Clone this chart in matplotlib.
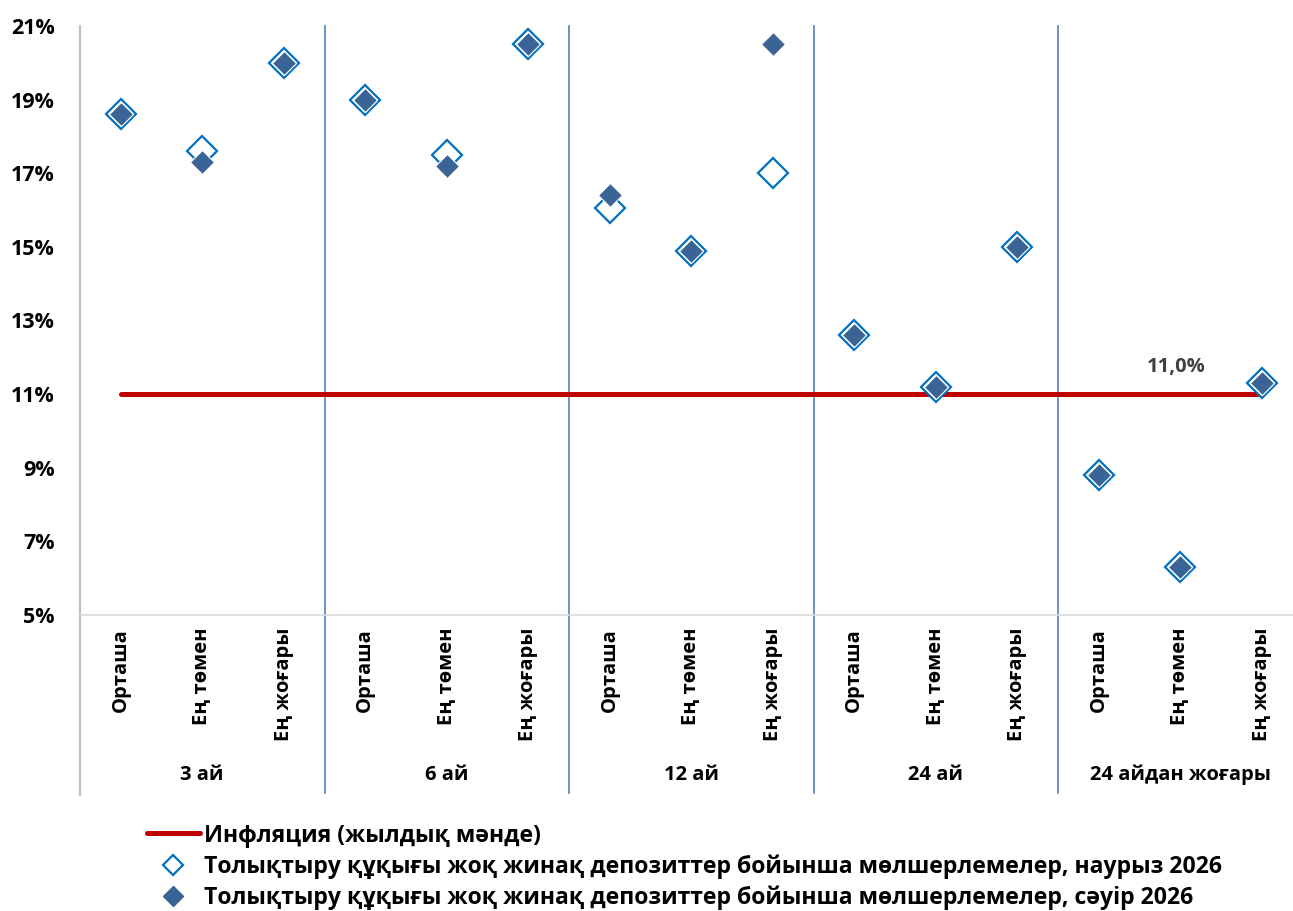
import numpy as np
import matplotlib
matplotlib.use('Agg')
import matplotlib.pyplot as plt
from matplotlib.lines import Line2D

plt.rcParams['font.family'] = ['Open Sans', 'DejaVu Sans']
plt.rcParams['font.weight'] = 'bold'

# data
groups = ['3 ай', '6 ай', '12 ай', '24 ай', '24 айдан жоғары']
cats = ['Орташа', 'Ең төмен', 'Ең жоғары']
march = [18.6, 17.6, 20.0, 19.0, 17.5, 20.5, 16.05, 14.9, 17.0, 12.6, 11.2, 15.0, 8.8, 6.3, 11.3]
april = [18.6, 17.3, 20.0, 19.0, 17.2, 20.5, 16.4, 14.9, 20.5, 12.6, 11.2, 15.0, 8.8, 6.3, 11.3]
inflation = 11.0

labels = {
    'infl': 'Инфляция (жылдық мәнде)',
    'mar': 'Толықтыру құқығы жоқ жинақ депозиттер бойынша мөлшерлемелер, наурыз 2026',
    'apr': 'Толықтыру құқығы жоқ жинақ депозиттер бойынша мөлшерлемелер, сәуір 2026',
}

RED = '#C00000'
OPEN_EDGE = '#0070C0'
FILL = '#3A6496'
SEP = '#4F81BD'
AXIS = '#BFBFBF'

W, H = 1293, 911
fig = plt.figure(figsize=(W / 100, H / 100), dpi=100)
ax = fig.add_axes([80 / W, 1 - 615 / H, (W - 80) / W, 589 / H])

x = np.arange(len(march))
ax.plot([x[0], x[-1]], [inflation, inflation], color=RED, lw=3.6,
        solid_capstyle='round', zorder=2)
ax.plot(x, march, ls='none', marker='D', ms=15.5, mfc='white',
        mec=OPEN_EDGE, mew=1.6, zorder=3)
ax.plot(x, april, ls='none', marker='D', ms=12.5, mfc=FILL,
        mec='white', mew=0.8, zorder=4)

ax.text(12.95, inflation + 0.75, '11,0%', color='#404040', fontsize=14.5,
        ha='center', va='center')

ax.set_ylim(5, 21)
ax.set_xlim(-0.5, (W - 80) / 81.5 - 0.5)
ax.set_yticks(np.arange(5, 22, 2))
ax.set_yticklabels([f'{v}%' for v in range(5, 22, 2)], fontsize=15.5)
ax.tick_params(axis='y', length=0, pad=18)
ax.set_xticks([])

for s in ['top', 'right', 'left']:
    ax.spines[s].set_visible(False)
ax.spines['bottom'].set_color('#D9D9D9')
ax.spines['bottom'].set_linewidth(1.2)

tr = ax.get_xaxis_transform()
# y axis line running through category area
ax.plot([-0.5, -0.5], [1, -0.306], transform=tr, color=AXIS, lw=1.5,
        clip_on=False)
for b in [2.5, 5.5, 8.5, 11.5]:
    ax.plot([b, b], [1, -0.302], transform=tr, color=SEP, lw=1.2,
            clip_on=False, zorder=1)

for i in x:
    ax.text(i, -0.022, cats[i % 3], transform=tr, rotation=90, ha='center',
            va='top', fontsize=14.5)
for g, name in enumerate(groups):
    ax.text(3 * g + 1, -0.272, name, transform=tr, ha='center', va='center',
            fontsize=14.5)

handles = [
    Line2D([], [], color=RED, lw=3.6, solid_capstyle='round'),
    Line2D([], [], ls='none', marker='D', ms=10, mfc='white', mec=OPEN_EDGE, mew=1.6),
    Line2D([], [], ls='none', marker='D', ms=10, mfc=FILL, mec=FILL),
]
fig.legend(handles, [labels['infl'], labels['mar'], labels['apr']],
           loc='upper left', bbox_to_anchor=(135 / W, 1 - 812 / H),
           frameon=False, fontsize=16.6, handlelength=2.3, handletextpad=0.2,
           labelspacing=0.3, borderpad=0)

fig.savefig('out.png', dpi=100)
